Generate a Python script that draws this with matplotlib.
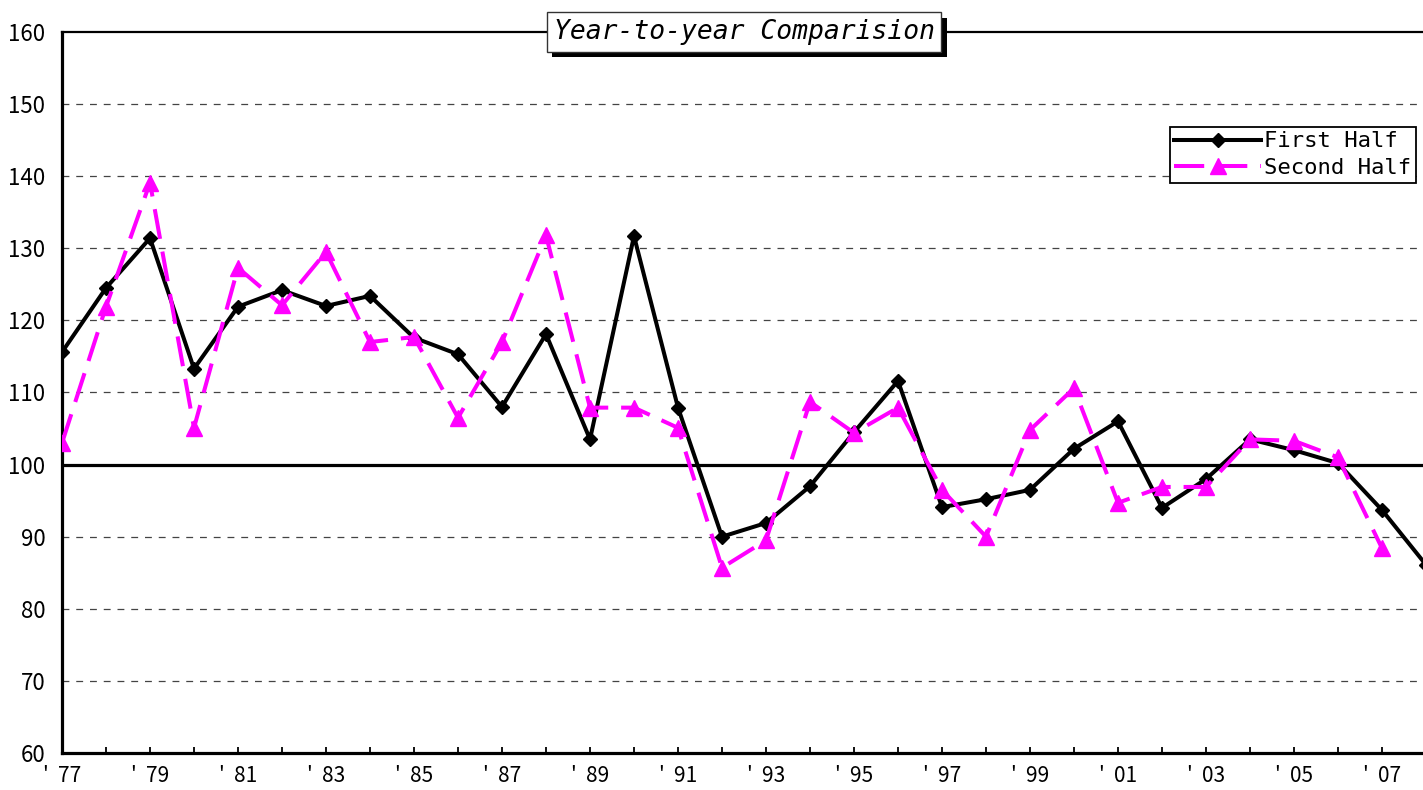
import numpy as np
import matplotlib
matplotlib.use("Agg")
import matplotlib.pyplot as plt
import matplotlib.patheffects as pe

# data
years = list(range(1977, 2009))
first_half = [115.6, 124.5, 131.4, 113.3, 121.9, 124.2, 122.0, 123.4, 117.6, 115.3,
              108.0, 118.1, 103.5, 131.7, 107.9, 90.0, 91.9, 97.0, 104.5, 111.6,
              94.1, 95.2, 96.5, 102.2, 106.0, 94.0, 98.0, 103.5, 102.0, 100.2,
              93.7, 86.1]
second_half = [103.0, 121.9, 139.1, 105.1, 127.3, 122.1, 129.5, 117.0, 117.7, 106.5,
               117.0, 131.8, 107.9, 107.9, 105.1, 85.7, 89.5, 108.7, 104.4, 107.9,
               96.5, 90.0, 104.8, 110.6, 94.7, 96.9, 96.9, 103.5, 103.3, 101.0,
               88.4]
yticks = [60, 70, 80, 90, 100, 110, 120, 130, 140, 150, 160]
xlabels = ["'  %02d" % (y % 100) if (y - 1977) % 2 == 0 else "" for y in years]

W, H = 1423, 790
fig = plt.figure(figsize=(W / 100, H / 100), dpi=100)
ax = fig.add_axes([62 / W, 1 - 753 / H, (1426 - 62) / W, (753 - 32) / H])

tick_font = ["Noto Sans CJK JP", "DejaVu Sans"]

# horizontal grid
for v in yticks:
    if v in (60, 160):
        continue
    if v == 100:
        ax.axhline(v, color="black", lw=2.3, zorder=1)
    else:
        ax.axhline(v, color="#444444", lw=0.9, dashes=(5.5, 5.5), zorder=1)

ax.plot(years, first_half, color="black", lw=2.9, marker="D", ms=7.5,
        label="First Half", zorder=3)
ax.plot(years[:len(second_half)], second_half, color="#FF00FF", lw=2.9,
        dashes=(7.5, 3.2), marker="^", ms=11, label="Second Half", zorder=4)

ax.set_xlim(1977, 2008)
ax.set_ylim(60, 160)
ax.set_yticks(yticks)
ax.set_yticklabels([str(v) for v in yticks], family=tick_font, fontsize=16)
ax.set_xticks(years)
ax.set_xticklabels(xlabels, family=tick_font, fontsize=15)
ax.tick_params(axis="y", length=0, pad=12)
ax.tick_params(axis="x", direction="in", length=4, width=1.3, pad=9)

for s in ("left", "bottom"):
    ax.spines[s].set_linewidth(2.3)
ax.spines["top"].set_linewidth(1.6)
ax.spines["right"].set_visible(False)

# title in a shadowed box over the top spine
t = ax.text(0.5, 1.0, "Year-to-year Comparision", transform=ax.transAxes,
            ha="center", va="center", fontsize=19, family="DejaVu Sans Mono",
            style="oblique", zorder=10,
            bbox=dict(boxstyle="square,pad=0.25", fc="white", ec="#333333", lw=1))
t.get_bbox_patch().set_path_effects([
    pe.SimplePatchShadow(offset=(4, -4), shadow_rgbFace="black", alpha=1),
    pe.Normal()])

leg = fig.legend(loc="upper left", bbox_to_anchor=(1170 / W, 1 - 127 / H),
                 borderaxespad=0, prop={"family": "DejaVu Sans Mono", "size": 16},
                 handlelength=3.9, handletextpad=0.15, borderpad=0.2,
                 labelspacing=0.3, fancybox=False, framealpha=1, edgecolor="black")
leg.get_frame().set_linewidth(1.3)

fig.savefig("out.png", dpi=100)
